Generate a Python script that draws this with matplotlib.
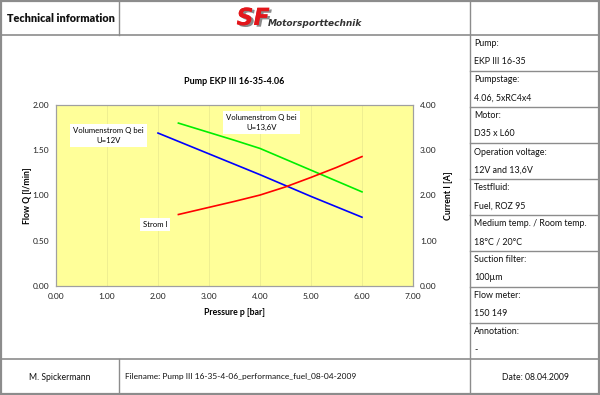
import matplotlib
matplotlib.use("Agg")
import matplotlib.pyplot as plt
import matplotlib.patheffects as pe
from matplotlib.lines import Line2D
from matplotlib.ticker import FormatStrFormatter

plt.rcParams['font.family'] = ['Lato', 'DejaVu Sans']

# ---- data ----
p_12v = [2.0, 3.0, 4.0, 5.0, 6.0]
q_12v = [1.69, 1.46, 1.23, 0.99, 0.76]

p_136v = [2.4, 3.5, 4.0, 4.5, 5.0, 5.5, 6.0]
q_136v = [1.80, 1.61, 1.52, 1.40, 1.28, 1.16, 1.04]

p_curr = [2.4, 3.5, 4.0, 4.5, 5.0, 5.5, 6.0]
i_curr = [1.58, 1.87, 2.01, 2.19, 2.40, 2.62, 2.86]

x_ticks = [0, 1, 2, 3, 4, 5, 6, 7]
y_ticks = [0, 0.5, 1.0, 1.5, 2.0]
y2_ticks = [0, 1, 2, 3, 4]

info_rows = [
    ("Pump:", "EKP III 16-35"),
    ("Pumpstage:", "4.06, 5xRC4x4"),
    ("Motor:", "D35 x L60"),
    ("Operation voltage:", "12V and 13,6V"),
    ("Testfluid:", "Fuel, ROZ 95"),
    ("Medium temp. / Room temp.", "18\u00b0C / 20\u00b0C"),
    ("Suction filter:", "100\u00b5m"),
    ("Flow meter:", "150 149"),
    ("Annotation:", "-"),
]

W, H = 600, 395
fig = plt.figure(figsize=(W / 100, H / 100), dpi=100)
fig.patch.set_facecolor('white')

def fx(x):
    return x / W

def fy(y):
    return 1 - y / H

def hline(x0, x1, y, lw=1.0, c='#8c8c8c'):
    fig.add_artist(Line2D([fx(x0), fx(x1)], [fy(y), fy(y)], color=c, lw=lw,
                          transform=fig.transFigure))

def vline(x, y0, y1, lw=1.0, c='#8c8c8c'):
    fig.add_artist(Line2D([fx(x), fx(x)], [fy(y0), fy(y1)], color=c, lw=lw,
                          transform=fig.transFigure))

# outer frame
hline(0.5, 599.5, 0.8, lw=1.6)
hline(0.5, 599.5, 394.2, lw=1.6)
vline(0.8, 0, 395, lw=1.6)
vline(599.2, 0, 395, lw=1.6)
# header / footer
hline(0, 600, 35, lw=1.2)
hline(0, 600, 359, lw=1.2)
vline(119, 0, 35)
vline(119, 359, 395)
vline(470, 0, 395)
# info rows
for k in range(1, 9):
    hline(470, 600, 35 + 36 * k)

for k, (lab, val) in enumerate(info_rows):
    y0 = 35 + 36 * k
    fig.text(fx(474), fy(y0 + 9), lab, fontsize=6.4, va='center', ha='left', color='#111111')
    fig.text(fx(474), fy(y0 + 27), val, fontsize=6.4, va='center', ha='left', color='#111111')

# header texts
fig.text(fx(7), fy(18), "Technical information", fontsize=7.8, fontweight='heavy',
         va='center', ha='left', color='#111111')
# logo (red with grey drop shadow)
fig.text(fx(236.5), fy(18), "SF", fontsize=17, fontweight='bold', fontstyle='italic',
         color='#e3161b', va='center', ha='left', family='DejaVu Sans',
         path_effects=[pe.withSimplePatchShadow(offset=(1.8, -1.2), shadow_rgbFace='#8a8a8a',
                                                alpha=1.0), pe.Normal()])
fig.text(fx(268), fy(24), "Motorsporttechnik", fontsize=6.5, fontweight='bold',
         fontstyle='italic', color='#333333', va='center', ha='left', family='DejaVu Sans')

# footer texts
fig.text(fx(60), fy(377), "M. Spickermann", fontsize=6.2, va='center', ha='center', color='#111111')
fig.text(fx(125), fy(377), "Filename: Pump III 16-35-4-06_performance_fuel_08-04-2009",
         fontsize=6.0, va='center', ha='left', color='#111111')
fig.text(fx(535), fy(377), "Date: 08.04.2009", fontsize=6.2, va='center', ha='center', color='#111111')

# ---- chart ----
ax = fig.add_axes([fx(56), fy(286), (413 - 56) / W, (286 - 105) / H])
ax.set_facecolor('#ffff99')
ax.set_xlim(0, 7)
ax.set_ylim(0, 2)
ax.set_xticks(x_ticks)
ax.set_yticks(y_ticks)
ax.xaxis.set_major_formatter(FormatStrFormatter('%.2f'))
ax.yaxis.set_major_formatter(FormatStrFormatter('%.2f'))
ax.grid(axis='x', color='#ecec90', lw=0.6)
ax.set_axisbelow(True)
for s in ax.spines.values():
    s.set_color('#a0a0a0')
    s.set_linewidth(0.8)
ax.tick_params(length=0, labelsize=6, colors='#222222', pad=5)

ax.plot(p_12v, q_12v, color='#0000ff', lw=1.2)
ax.plot(p_136v, q_136v, color='#00ee00', lw=1.2)

ax2 = ax.twinx()
ax2.set_ylim(0, 4)
ax2.set_yticks(y2_ticks)
ax2.yaxis.set_major_formatter(FormatStrFormatter('%.2f'))
ax2.tick_params(length=0, labelsize=6, colors='#222222', pad=5)
for s in ax2.spines.values():
    s.set_color('#a0a0a0')
    s.set_linewidth(0.8)
ax2.plot(p_curr, i_curr, color='#ff0000', lw=1.2)

ax.set_xlabel("Pressure p [bar]", fontsize=6.3, fontweight='bold', labelpad=6)
ax.set_ylabel("Flow Q [l/min]", fontsize=6.3, fontweight='bold', labelpad=0)
ax2.set_ylabel("Current I [A]", fontsize=6.3, fontweight='bold', labelpad=5)
ax.set_title("Pump EKP III 16-35-4.06", fontsize=6.5, fontweight='bold', pad=15)

box = dict(facecolor='white', edgecolor='none', pad=2)
ax.text(1.03, 1.665, "Volumenstrom Q bei\nU=12V", fontsize=5.6, ha='center', va='center',
        bbox=box, linespacing=1.5)
ax.text(4.03, 1.81, "Volumenstrom Q bei\nU=13,6V", fontsize=5.6, ha='center', va='center',
        bbox=box, linespacing=1.5)
ax.text(1.94, 0.68, "Strom I", fontsize=5.6, ha='center', va='center', bbox=box)

fig.savefig("out.png", dpi=100)
